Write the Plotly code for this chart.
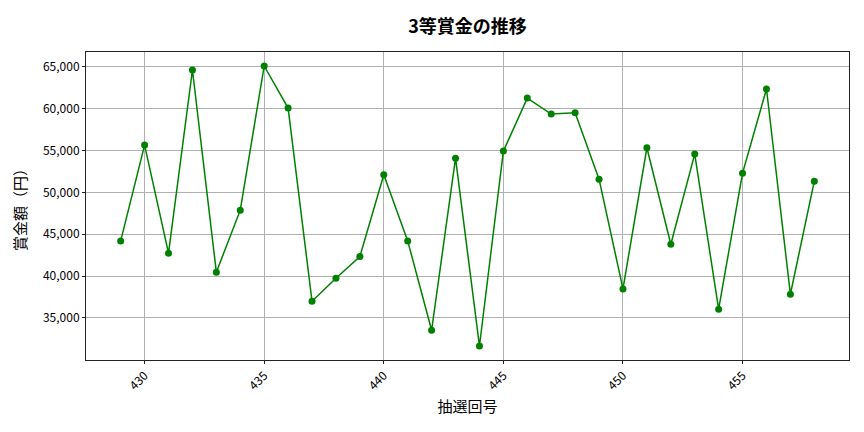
import plotly.graph_objects as go

# 抽選回号と3等賞金（円）
kaigo = list(range(429, 459))
shokin = [44200, 55640, 42730, 64600, 40460, 47870, 65080, 60060, 36990, 39740,
          42330, 52090, 44200, 33530, 54080, 31650, 54920, 61250, 59340, 59500,
          51570, 38470, 55320, 43800, 54560, 36040, 52290, 62330, 37830, 51330]

fuente = "Noto Sans CJK JP"

fig = go.Figure()
fig.add_trace(go.Scatter(
    x=kaigo, y=shokin,
    mode='lines+markers',
    line=dict(color='green', width=1.5),
    marker=dict(color='green', size=7),
    showlegend=False
))

lo, hi = min(shokin), max(shokin)
pad = (hi - lo) * 0.05
xpad = (kaigo[-1] - kaigo[0]) * 0.05

# la página tiene 8px de margen en el body, se compensa aquí
fig.update_layout(
    width=856, height=424,
    margin=dict(l=78, r=15, t=44, b=72),
    paper_bgcolor='white',
    plot_bgcolor='white',
    font=dict(family=fuente, size=12, color='black'),
    title=dict(text='<b>3等賞金の推移</b>', x=0.5, xref='paper', y=0.955,
               yanchor='middle', font=dict(size=18, family=fuente)),
    xaxis=dict(
        title=dict(text='抽選回号', font=dict(size=15), standoff=9),
        range=[kaigo[0] - xpad, kaigo[-1] + xpad],
        tickvals=[430, 435, 440, 445, 450, 455],
        tickangle=-45,
        showgrid=True, gridcolor='#b0b0b0', gridwidth=1,
        showline=True, linecolor='#222', linewidth=1, mirror=True,
        ticks='outside', ticklen=3, tickcolor='#222',
        zeroline=False,
    ),
    yaxis=dict(
        title=dict(text='賞金額（円）', font=dict(size=15), standoff=12),
        range=[lo - pad, hi + pad],
        tickvals=[35000, 40000, 45000, 50000, 55000, 60000, 65000],
        tickformat=',d',
        showgrid=True, gridcolor='#b0b0b0', gridwidth=1,
        showline=True, linecolor='#222', linewidth=1, mirror=True,
        ticks='outside', ticklen=3, tickcolor='#222',
        zeroline=False,
    ),
)

fig.write_html("out.html")
